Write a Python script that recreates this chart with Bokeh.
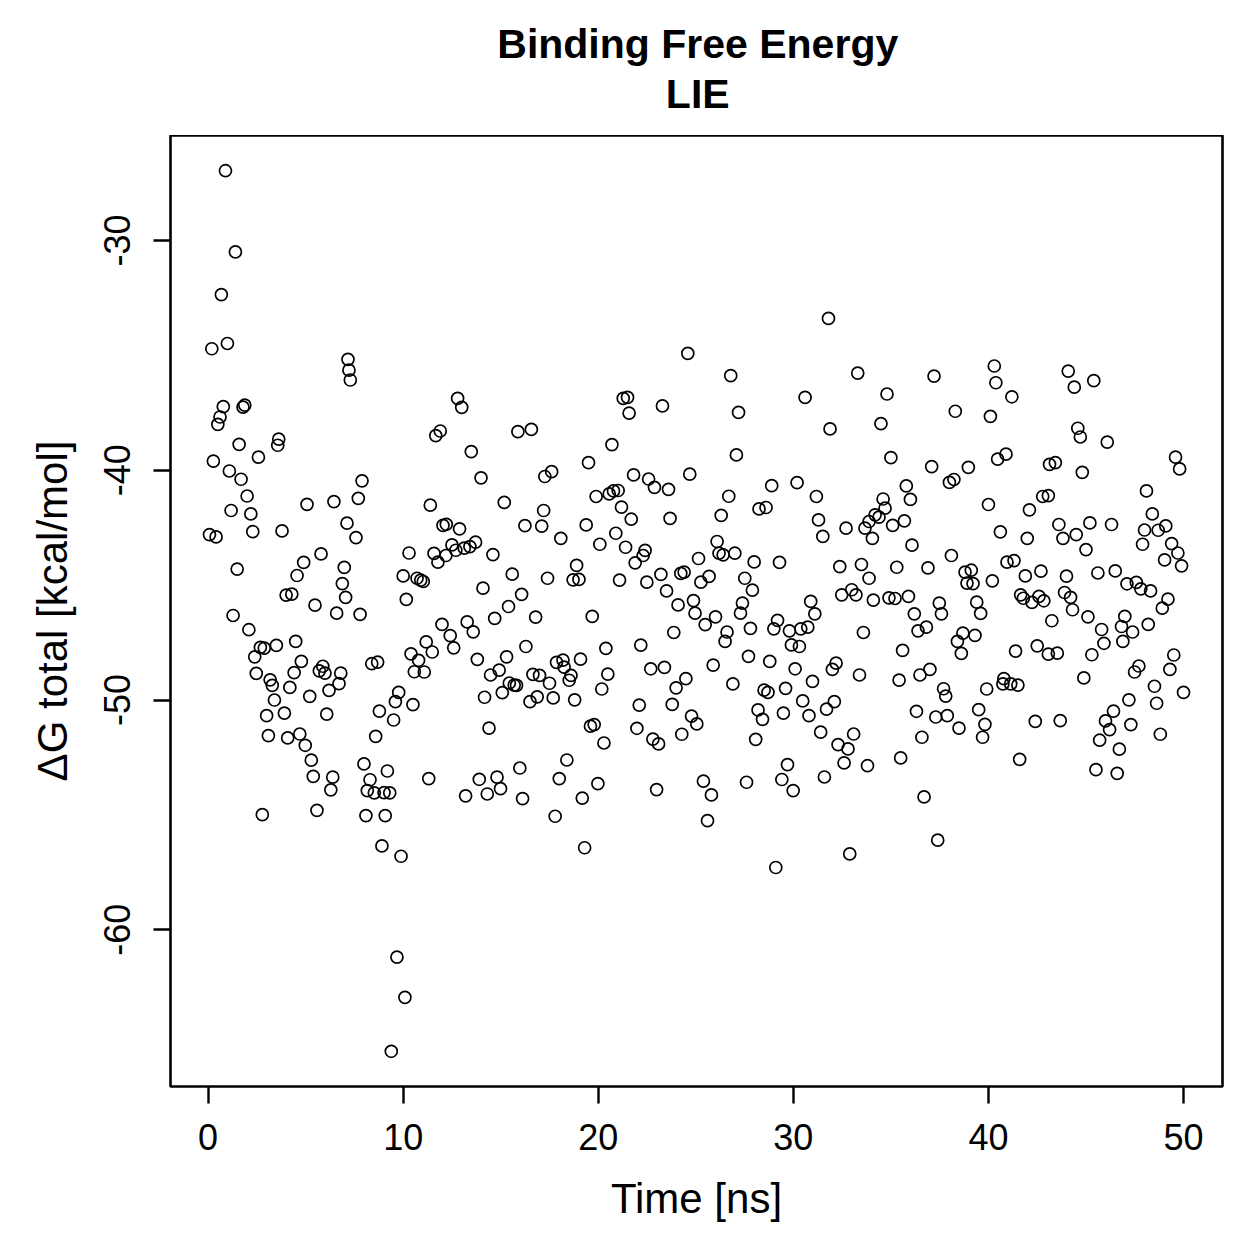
import numpy as np
from bokeh.plotting import figure
from bokeh.layouts import column
from bokeh.models import Range1d, FixedTicker, Label
from bokeh.embed import file_html
from bokeh.resources import INLINE

# LIE binding free energy along the trajectory: (time [ns], dG total [kcal/mol])
block_0_8 = [
    (0.89, -26.96), (1.40, -30.49), (0.68, -32.35), (0.19, -34.71), (0.99, -34.48), (7.17, -35.17),
    (7.22, -35.64), (7.29, -36.07), (0.78, -37.23), (0.61, -37.68), (0.50, -38.00), (1.88, -37.16),
    (1.79, -37.25), (1.59, -38.87), (0.27, -39.60), (2.58, -39.43), (3.62, -38.64), (3.57, -38.91),
    (1.09, -40.03), (1.69, -40.39), (2.00, -41.12), (1.18, -41.75), (2.19, -41.90), (0.07, -42.80),
    (0.41, -42.90), (2.29, -42.67), (3.79, -42.64), (5.07, -41.48), (6.45, -41.36), (7.12, -42.30),
    (7.58, -42.93), (1.49, -44.30), (5.79, -43.64), (4.90, -44.01), (4.56, -44.58), (6.98, -44.23),
    (6.88, -44.93), (7.05, -45.53), (4.00, -45.43), (4.29, -45.39), (5.48, -45.87), (6.59, -46.22),
    (1.28, -46.32), (2.09, -46.94), (2.68, -47.71), (2.88, -47.74), (3.50, -47.62), (4.49, -47.45),
    (2.39, -48.12), (4.78, -48.32), (2.47, -48.84), (3.18, -49.12), (3.29, -49.36), (4.41, -48.81),
    (4.19, -49.45), (5.21, -49.84), (5.88, -48.53), (5.70, -48.73), (5.99, -48.83), (6.80, -48.83),
    (6.71, -49.29), (6.20, -49.58), (3.40, -50.00), (3.00, -50.68), (3.91, -50.57), (6.08, -50.61),
    (3.09, -51.55), (4.08, -51.65), (4.70, -51.48), (4.98, -51.97), (5.29, -52.62), (5.39, -53.32),
    (6.39, -53.36), (6.29, -53.91), (2.78, -54.99), (5.58, -54.80),
]
block_8_16 = [
    (12.79, -36.87), (13.00, -37.26), (11.90, -38.29), (11.67, -38.49), (15.88, -38.32), (13.49, -39.19),
    (13.99, -40.33), (7.89, -40.46), (7.70, -41.22), (11.39, -41.52), (15.18, -41.40), (12.21, -42.35),
    (12.04, -42.40), (12.89, -42.55), (12.50, -43.25), (11.58, -43.62), (11.78, -44.00), (12.19, -43.71),
    (12.70, -43.48), (13.13, -43.39), (13.42, -43.32), (13.71, -43.13), (10.30, -43.60), (14.60, -43.67),
    (10.00, -44.60), (10.71, -44.70), (10.90, -44.78), (11.03, -44.84), (15.59, -44.52), (14.09, -45.13),
    (16.07, -45.40), (10.16, -45.62), (15.40, -45.93), (16.24, -42.41),
    (7.79, -46.27), (14.69, -46.45), (11.99, -46.71), (13.28, -46.60), (13.59, -47.03), (12.41, -47.20),
    (12.59, -47.73), (11.18, -47.47), (11.49, -47.91), (10.40, -47.99), (10.79, -48.27), (10.57, -48.77),
    (11.08, -48.78), (8.39, -48.42), (8.69, -48.35), (13.80, -48.23), (15.30, -48.12), (16.29, -47.67),
    (14.48, -48.91), (14.92, -48.70), (15.44, -49.26), (15.69, -49.35), (15.81, -49.36), (15.08, -49.68),
    (14.17, -49.88), (9.77, -49.67), (9.60, -50.07), (10.50, -50.20), (8.78, -50.48), (9.51, -50.87),
    (8.59, -51.58), (14.40, -51.22), (7.99, -52.78), (9.19, -53.09), (8.30, -53.47), (8.16, -53.94),
    (8.52, -54.04), (9.02, -54.03), (9.31, -54.04), (11.31, -53.42), (13.90, -53.45), (14.81, -53.36),
    (14.99, -53.86), (14.31, -54.09), (13.20, -54.17), (15.98, -52.96), (16.12, -54.29), (8.09, -55.03),
    (9.08, -55.03), (8.91, -56.35), (9.89, -56.80), (9.68, -61.19), (10.09, -62.94), (9.39, -65.29),
]
block_16_25 = [
    (24.59, -34.91), (21.28, -36.87), (21.50, -36.83), (21.58, -37.51), (23.29, -37.20), (16.57, -38.22),
    (20.70, -38.88), (19.50, -39.67), (17.26, -40.27), (17.61, -40.06), (21.81, -40.20), (22.58, -40.38),
    (22.88, -40.74), (23.60, -40.83), (24.69, -40.17), (19.89, -41.14), (20.56, -41.03), (20.78, -40.90),
    (21.02, -40.88), (21.19, -41.60), (21.69, -42.13), (23.68, -42.09), (17.20, -41.75), (17.10, -42.43),
    (19.38, -42.38), (18.08, -42.96), (20.08, -43.22), (20.90, -42.74), (21.40, -43.35), (22.40, -43.49),
    (22.30, -43.71), (21.89, -44.03), (25.14, -43.84), (18.89, -44.14), (17.40, -44.70), (18.71, -44.77),
    (19.01, -44.75), (21.09, -44.78), (22.49, -44.87), (23.21, -44.53), (24.23, -44.49), (24.40, -44.43),
    (25.26, -44.87), (23.50, -45.25), (24.09, -45.86), (24.88, -45.67),
    (24.96, -46.22), (16.79, -46.39), (19.69, -46.36), (23.87, -47.06), (20.39, -47.75), (22.18, -47.61),
    (17.86, -48.36), (18.19, -48.26), (18.25, -48.57), (19.09, -48.22), (16.65, -48.88), (16.99, -48.93),
    (17.50, -49.27), (18.60, -48.93), (18.51, -49.14), (20.49, -48.87), (20.18, -49.52), (22.69, -48.64),
    (23.39, -48.58), (24.49, -49.07), (23.99, -49.47), (16.87, -49.86), (16.50, -50.07), (17.69, -49.91),
    (18.79, -49.99), (22.10, -50.22), (23.79, -50.19), (24.78, -50.70), (25.05, -51.04), (19.60, -51.14),
    (19.79, -51.07), (20.29, -51.87), (21.98, -51.23), (22.80, -51.70), (23.09, -51.91), (24.28, -51.49),
    (18.39, -52.61), (18.00, -53.42), (19.98, -53.64), (19.18, -54.27), (22.99, -53.90), (25.39, -53.53),
    (17.79, -55.06), (19.30, -56.43),
]
block_25_34 = [
    (31.80, -33.39), (26.79, -35.88), (33.30, -35.77), (30.60, -36.83), (27.19, -37.48), (31.88, -38.20),
    (27.08, -39.33), (28.89, -40.67), (30.19, -40.54), (26.69, -41.13), (31.18, -41.14), (28.24, -41.68),
    (28.60, -41.62), (26.30, -41.96), (31.29, -42.16), (31.51, -42.88), (32.70, -42.52), (33.67, -42.52),
    (33.88, -42.23), (34.19, -41.94), (34.05, -42.96), (26.09, -43.10), (26.19, -43.61), (26.40, -43.68),
    (27.00, -43.61), (27.99, -43.99), (29.29, -44.01), (32.38, -44.19), (33.49, -44.10), (25.68, -44.62),
    (27.51, -44.70), (33.88, -44.70), (27.90, -45.22), (32.48, -45.42), (32.99, -45.20), (33.21, -45.42),
    (27.39, -45.78), (30.89, -45.71), (34.10, -45.65),
    (27.29, -46.22), (31.10, -46.25), (26.01, -46.38), (25.48, -46.72), (26.60, -47.04), (26.50, -47.45),
    (27.80, -46.88), (29.19, -46.53), (29.00, -46.90), (29.80, -46.99), (30.38, -46.90), (30.74, -46.83),
    (29.90, -47.60), (30.31, -47.67), (33.59, -47.06), (25.89, -48.48), (27.70, -48.10), (28.79, -48.32),
    (30.09, -48.64), (32.00, -48.67), (32.19, -48.39), (33.39, -48.91), (26.90, -49.30), (28.50, -49.57),
    (28.70, -49.67), (29.60, -49.49), (30.98, -49.19), (28.19, -50.43), (28.42, -50.84), (29.49, -50.57),
    (30.48, -50.04), (30.80, -50.68), (31.70, -50.40), (32.10, -50.07), (28.07, -51.71), (31.40, -51.40),
    (33.09, -51.48), (32.29, -51.94), (32.80, -52.13), (32.60, -52.74), (33.80, -52.86), (29.70, -52.81),
    (29.41, -53.46), (29.99, -53.94), (31.59, -53.35), (25.80, -54.13), (27.60, -53.58), (25.60, -55.25),
    (32.89, -56.70), (29.10, -57.29),
]
block_34_43 = [
    (40.30, -35.46), (40.38, -36.19), (41.20, -36.80), (37.21, -35.90), (34.80, -36.68), (34.49, -37.97),
    (38.30, -37.43), (40.10, -37.65), (35.00, -39.45), (37.09, -39.84), (38.97, -39.87), (38.00, -40.53),
    (38.23, -40.40), (40.47, -39.51), (40.90, -39.30), (43.13, -39.74), (35.79, -40.68), (36.00, -41.27),
    (34.60, -41.25), (34.70, -41.65), (34.39, -42.04), (35.09, -42.40), (35.69, -42.20), (36.08, -43.26),
    (40.00, -41.49), (42.10, -41.72), (42.78, -41.14), (43.07, -41.10), (40.61, -42.68), (41.99, -42.96),
    (38.10, -43.71), (35.30, -44.22), (36.90, -44.25), (40.95, -44.00), (41.31, -43.93), (38.80, -44.43),
    (39.12, -44.35), (38.90, -44.91), (39.21, -44.93), (40.20, -44.81), (41.89, -44.60), (42.69, -44.39),
    (34.90, -45.55), (35.21, -45.58), (35.90, -45.49), (37.48, -45.78), (39.40, -45.74), (41.65, -45.42),
    (41.79, -45.57), (42.23, -45.75), (42.59, -45.49), (42.84, -45.68),
    (36.20, -46.25), (37.59, -46.25), (39.60, -46.23), (36.39, -46.99), (36.82, -46.83), (38.69, -47.09),
    (38.41, -47.45), (39.31, -47.19), (38.61, -47.97), (35.60, -47.84), (41.39, -47.87), (42.50, -47.64),
    (35.42, -49.13), (36.49, -48.91), (37.00, -48.67), (37.70, -49.51), (37.81, -49.83), (39.91, -49.52),
    (40.79, -49.07), (40.74, -49.30), (41.14, -49.30), (41.51, -49.35), (36.31, -50.49), (37.30, -50.74),
    (37.89, -50.68), (38.49, -51.22), (39.50, -50.42), (39.82, -51.06), (39.70, -51.62), (42.40, -50.93),
    (36.59, -51.62), (35.50, -52.52), (41.60, -52.58), (36.70, -54.22), (37.40, -56.10),
]
block_43_50 = [
    (44.09, -35.68), (44.40, -36.38), (45.40, -36.10), (44.58, -38.17), (44.71, -38.55), (46.09, -38.77),
    (43.43, -39.67), (44.81, -40.09), (49.59, -39.43), (49.80, -39.94), (48.10, -40.90), (48.40, -41.90),
    (43.61, -42.36), (45.20, -42.29), (46.31, -42.36), (43.82, -42.96), (44.50, -42.80), (45.00, -43.45),
    (48.00, -42.60), (48.70, -42.61), (49.09, -42.42), (47.90, -43.22), (49.39, -43.19), (49.71, -43.60),
    (49.03, -43.90), (49.90, -44.16), (44.00, -44.61), (45.61, -44.47), (46.50, -44.38), (47.10, -44.94),
    (47.58, -44.88), (47.81, -45.16), (48.31, -45.25), (49.20, -45.61), (43.90, -45.32), (44.21, -45.53),
    (48.91, -46.00),
    (44.31, -46.07), (43.25, -46.55), (45.10, -46.38), (45.80, -46.93), (45.92, -47.53), (46.99, -46.36),
    (46.82, -46.80), (47.39, -47.04), (46.89, -47.45), (48.19, -46.71), (43.07, -48.00), (43.53, -47.96),
    (45.30, -48.03), (44.89, -49.04), (47.71, -48.52), (47.49, -48.78), (49.50, -48.04), (49.30, -48.67),
    (48.51, -49.40), (50.00, -49.67), (47.20, -49.99), (48.62, -50.14), (46.41, -50.48), (43.68, -50.90),
    (46.00, -50.91), (46.21, -51.29), (45.70, -51.75), (47.30, -51.07), (48.81, -51.49), (46.71, -52.14),
    (45.51, -53.03), (46.60, -53.19),
]

x_ticks = [0, 10, 20, 30, 40, 50]
y_ticks = [-60, -50, -40, -30]
y_tick_labels = ["-60", "-50", "-40", "-30"]
title_lines = ["Binding Free Energy", "LIE"]

pts = np.array(block_0_8 + block_8_16 + block_16_25 + block_25_34 + block_34_43 + block_43_50)
pts = pts[np.argsort(pts[:, 0])]
time_ns = pts[:, 0]
dg_total = pts[:, 1]

# axis limits padded by 4% like R's default "r" style
def padded(v):
    lo, hi = float(np.min(v)), float(np.max(v))
    d = (hi - lo) * 0.04
    return lo - d, hi + d

xlo, xhi = padded(time_ns)
ylo, yhi = padded(dg_total)

FONT = "Liberation Sans"
W, H = 1259, 1259
BL, BR, BT, BB = 170, 37, 135, 173

# --- title strip: a bare canvas holding the two centred bold title lines ---
head = figure(width=W, height=BT, output_backend="svg", toolbar_location=None,
              x_range=Range1d(0, W), y_range=Range1d(0, BT), min_border=0)
head.axis.visible = False
head.grid.visible = False
head.outline_line_color = None
head.background_fill_color = "white"
head.border_fill_color = "white"
xmid = BL + (W - BL - BR) / 2 - 65
for line, baseline_from_top in zip(title_lines, [43, 93]):
    head.add_layout(Label(x=xmid, y=BT - baseline_from_top, text=line,
                          text_align="center", text_baseline="alphabetic",
                          text_font=FONT, text_font_size="41px", text_font_style="bold",
                          text_color="black"))

# --- scatter panel ---
p = figure(width=W, height=H - BT, output_backend="svg", toolbar_location=None,
           x_range=Range1d(xlo, xhi), y_range=Range1d(ylo, yhi),
           min_border_left=BL, min_border_right=BR, min_border_top=0, min_border_bottom=BB)
p.title = None
p.grid.visible = False
p.background_fill_color = "white"
p.border_fill_color = "white"
p.outline_line_color = "black"
p.outline_line_width = 2.6

for ax in (p.xaxis[0], p.yaxis[0]):
    ax.axis_line_color = None
    ax.major_tick_line_color = "black"
    ax.major_tick_line_width = 2.4
    ax.major_tick_out = 17
    ax.major_tick_in = 0
    ax.minor_tick_line_color = None
    ax.major_label_text_font = FONT
    ax.major_label_text_font_size = "36px"
    ax.major_label_text_color = "black"
    ax.axis_label_text_font = FONT
    ax.axis_label_text_font_size = "42px"
    ax.axis_label_text_font_style = "normal"
    ax.axis_label_text_color = "black"

p.xaxis[0].ticker = FixedTicker(ticks=x_ticks)
p.yaxis[0].ticker = FixedTicker(ticks=y_ticks)
p.yaxis[0].major_label_overrides = dict(zip(y_ticks, y_tick_labels))
p.xaxis[0].axis_label = "Time [ns]"
p.yaxis[0].axis_label = "\u0394G total [kcal/mol]"
p.xaxis[0].major_label_standoff = 20
p.xaxis[0].axis_label_standoff = 22
p.yaxis[0].major_label_orientation = "vertical"
p.yaxis[0].major_label_standoff = 23
p.yaxis[0].axis_label_standoff = 26

p.scatter(time_ns, dg_total, marker="circle", size=12, fill_color=None,
          line_color="black", line_width=1.7)

page = column(head, p, spacing=0)
open("out.html", "w").write(file_html(page, INLINE))
